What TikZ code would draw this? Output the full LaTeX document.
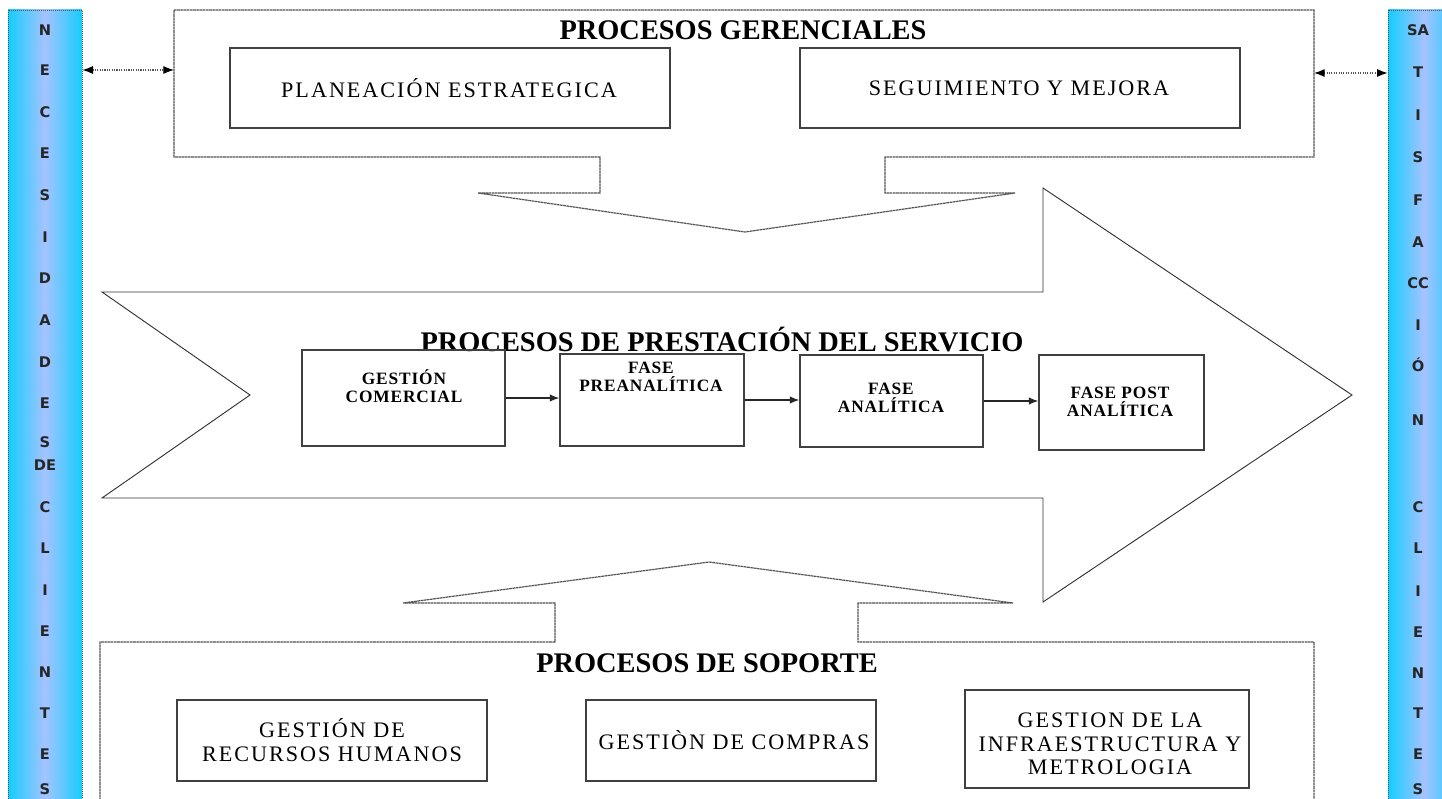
\documentclass[tikz,border=0pt]{standalone}
\usepackage{fontspec}
\setmainfont{Liberation Serif}
\newfontfamily\tnr[LetterSpace=9]{Liberation Serif}
\newfontfamily\tnrm[LetterSpace=5]{Liberation Serif}
\newfontfamily\vsans{DejaVu Sans}
\usetikzlibrary{arrows.meta,fit}
\definecolor{barcyan}{RGB}{20,205,255}
\definecolor{barmid}{RGB}{165,195,255}
\definecolor{frameg}{RGB}{85,85,85}
\pgfdeclarehorizontalshading{barsh}{100bp}{color(0bp)=(barcyan); color(25bp)=(barcyan); color(50bp)=(barmid); color(75bp)=(barcyan); color(100bp)=(barcyan)}
\begin{document}
\begin{tikzpicture}[x=0.75pt,y=-0.75pt,
  bar/.style={draw=frameg, line width=0.5pt, densely dotted, inner sep=0pt,
    shading=barsh, shading angle=0},
  vl/.style={font=\vsans\bfseries\fontsize{11}{12}\selectfont, text=black!85, inner sep=0pt,
    text height=8pt, text depth=0pt, anchor=center},
  frame/.style={draw=frameg, line width=0.9pt, dash pattern=on 2pt off 0.4pt, line join=miter},
  bigarrow/.style={draw=black!80, line width=0.7pt, line join=miter},
  box/.style={draw=black!75, line width=1.1pt, inner sep=0pt},
  title/.style={font=\bfseries\fontsize{21.3}{24}\selectfont, inner sep=0pt,
    text height=14pt, text depth=0pt},
  btxt/.style={font=\tnr\fontsize{16.6}{17.6}\selectfont, align=center, inner sep=0pt},
  mtxt/.style={font=\tnrm\bfseries\fontsize{13}{13.7}\selectfont, align=center, inner sep=0pt},
  dbl/.style={{Latex[length=8pt,width=6pt,color=black]}-{Latex[length=8pt,width=6pt,color=black]},
    draw=frameg, densely dotted, line width=0.8pt},
  flow/.style={-{Latex[length=7pt,width=5.5pt]}, draw=black!85, line width=0.9pt}
]
\useasboundingbox (0,0) rectangle (1442,799);
\clip (0,0) rectangle (1442,799);
\fill[white] (0,0) rectangle (1442,799);

% side bars
\node[bar, fit={(8,10) (82,820)}] (lbar) {};
\node[bar, fit={(1388,10) (1460,820)}] (rbar) {};
\foreach \yy/\t [count=\i] in {30/N,70/E,112/C,153/E,195/S,237/I,278/D,320/A,362/D,403/E,442/S,465/DE,507/C,548/L,590/I,631/E,672/N,713/T,754/E,789/S}
  \node[vl] (l\i) at (45,\yy) {\t};
\foreach \yy/\t [count=\i] in {30/SA,72/T,115/I,157/S,200/F,242/A,283/CC,325/I,366/Ó,420/N,507/C,548/L,591/I,632/E,673/N,713/T,754/E,789/S}
  \node[vl] (r\i) at (1418,\yy) {\t};

% top frame: procesos gerenciales
\coordinate (g1) at (174,10);
\coordinate (g2) at (1314,10);
\coordinate (g3) at (1314,157);
\coordinate (g4) at (885,157);
\coordinate (g5) at (885,193);
\coordinate (g6) at (1015,193);
\coordinate (g7) at (745,232);
\coordinate (g8) at (478,193);
\coordinate (g9) at (600,193);
\coordinate (g10) at (600,157);
\coordinate (g11) at (174,157);
\draw[frame] (g1) -- (g2) -- (g3) -- (g4) -- (g5) -- (g6) -- (g7) -- (g8) -- (g9) -- (g10) -- (g11) -- cycle;
\node[title] (tg) at (743,30) {PROCESOS GERENCIALES};
\node[box, fit={(230,48) (670,128)}] (pe) {};
\node[btxt] (pet) at (449,88) {PLANEACIÓN ESTRATEGICA};
\node[box, fit={(800,48) (1240,128)}] (sm) {};
\node[btxt] (smt) at (1019,88) {SEGUIMIENTO Y MEJORA};

% connectors to side bars
\coordinate (ya) at (0,70);
\coordinate (yb) at (0,73);
\draw[dbl] (lbar.east |- ya) -- (g1 |- ya);
\draw[dbl] (g2 |- yb) -- (rbar.west |- yb);

% big arrow: prestacion del servicio
\coordinate (a1) at (102,292);
\coordinate (a2) at (1043,292);
\coordinate (a3) at (1043,188);
\coordinate (a4) at (1352,395);
\coordinate (a5) at (1043,602);
\coordinate (a6) at (1043,498);
\coordinate (a7) at (102,498);
\coordinate (a8) at (250,395);
\draw[bigarrow] (a1) -- (a2) -- (a3) -- (a4) -- (a5) -- (a6) -- (a7) -- (a8) -- cycle;
\node[title] (tp) at (722,342) {PROCESOS DE PRESTACIÓN DEL SERVICIO};

\node[box, fit={(302,350) (505,446)}] (gc) {};
\node[mtxt] (gct) at (404,386) {GESTIÓN\\COMERCIAL};
\node[box, fit={(560,354) (744,446)}] (pa) {};
\node[mtxt] (pat) at (651,377) {FASE\\PREANALÍTICA};
\node[box, fit={(800,355) (983,447)}] (an) {};
\node[mtxt] (ant) at (891,398) {FASE\\ANALÍTICA};
\node[box, fit={(1039,355) (1204,450)}] (po) {};
\node[mtxt] (pot) at (1120,402) {FASE POST\\ANALÍTICA};
\draw[flow] (gc.east) -- (gc.east -| pa.west);
\draw[flow] (pa.east) -- (pa.east -| an.west);
\draw[flow] (an.east) -- (an.east -| po.west);

% bottom frame: procesos de soporte
\coordinate (s1) at (100,820);
\coordinate (s2) at (100,642);
\coordinate (s3) at (555,642);
\coordinate (s4) at (555,603);
\coordinate (s5) at (403,603);
\coordinate (s6) at (709,562);
\coordinate (s7) at (1013,603);
\coordinate (s8) at (858,603);
\coordinate (s9) at (858,642);
\coordinate (s10) at (1314,642);
\coordinate (s11) at (1314,820);
\draw[frame] (s1) -- (s2) -- (s3) -- (s4) -- (s5) -- (s6) -- (s7) -- (s8) -- (s9) -- (s10) -- (s11);
\node[title] (ts) at (707,663) {PROCESOS DE SOPORTE};
\node[box, fit={(177,700) (487,781)}] (rh) {};
\node[btxt] (rht) at (332,740) {GESTIÓN DE\\RECURSOS HUMANOS};
\node[box, fit={(586,700) (876,781)}] (cp) {};
\node[btxt] (cpt) at (734,740) {GESTIÒN DE COMPRAS};
\node[box, fit={(965,690) (1249,788)}] (inf) {};
\node[btxt] (inft) at (1110,744) {GESTION DE LA\\INFRAESTRUCTURA Y\\METROLOGIA};
\end{tikzpicture}
\end{document}
